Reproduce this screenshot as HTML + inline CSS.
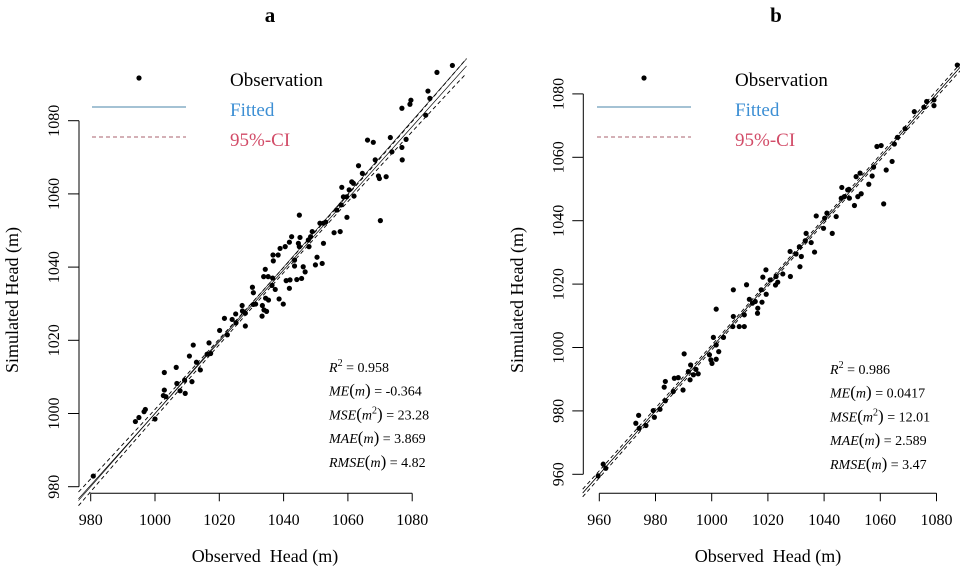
<!DOCTYPE html>
<html><head><meta charset="utf-8">
<style>
html,body{margin:0;padding:0;background:#fff;font-family:"Liberation Serif","Times New Roman",Times,"DejaVu Serif",serif;}
svg{display:block;font-family:"Liberation Serif","Times New Roman",Times,"DejaVu Serif",serif;}
svg text, svg tspan{font-family:"Liberation Serif","Times New Roman",Times,"DejaVu Serif",serif !important;}
</style></head>
<body>
<svg id="chart" width="960" height="572" viewBox="0 0 960 572" xmlns="http://www.w3.org/2000/svg"></svg>
<script>
// ---- Panel a data ----
const aObserved = [980.8,993.9,995.0,996.6,997.0,1000.0,1002.9,1002.9,1003.4,1002.6,1006.6,1006.8,1007.8,1009.2,1009.4,1011.5,1010.7,1011.9,1012.9,1014.1,1016.2,1016.8,1017.3,1020.1,1021.6,1022.5,1024.0,1025.2,1025.1,1027.1,1027.2,1028.1,1028.1,1030.3,1030.6,1031.3,1030.6,1033.3,1033.4,1033.9,1034.4,1034.7,1035.3,1034.3,1033.8,1035.2,1036.6,1036.4,1037.4,1036.8,1036.7,1038.3,1038.6,1039.9,1038.9,1040.5,1041.8,1042.5,1040.8,1042.0,1041.8,1043.4,1043.4,1044.1,1044.6,1045.1,1044.9,1044.9,1045.6,1046.1,1046.7,1047.7,1047.9,1048.4,1048.9,1049.9,1050.4,1052.0,1052.4,1051.3,1052.4,1053.1,1055.7,1057.6,1056.5,1057.9,1059.7,1058.6,1059.6,1060.4,1061.2,1061.7,1061.9,1058.1,1063.3,1064.5,1069.5,1069.8,1071.9,1068.5,1070.1,1066.1,1067.9,1073.2,1073.7,1076.8,1076.9,1078.1,1076.8,1079.3,1079.6,1084.2,1085.5,1084.9,1087.7,1092.5];
const aSimulated = [982.9,997.8,998.9,1000.5,1001.1,998.5,1011.2,1006.4,1004.6,1004.9,1012.6,1008.2,1006.2,1009.1,1005.5,1008.7,1015.7,1018.7,1014.0,1011.9,1016.2,1019.3,1016.4,1022.7,1026.0,1021.5,1025.7,1024.8,1027.2,1029.5,1028.0,1027.4,1023.9,1034.5,1033.0,1029.9,1029.8,1026.6,1029.5,1028.3,1031.5,1027.9,1031.0,1039.4,1037.4,1037.4,1037.0,1035.0,1033.9,1041.7,1043.3,1043.3,1031.3,1029.9,1045.1,1045.6,1046.8,1048.3,1036.3,1036.5,1034.2,1041.9,1040.3,1036.6,1046.5,1048.1,1045.6,1054.2,1036.9,1040.1,1038.7,1047.4,1045.6,1048.3,1049.7,1040.6,1042.7,1041.0,1046.5,1052.0,1052.0,1052.3,1049.4,1049.7,1055.6,1057.0,1053.6,1059.2,1059.2,1061.1,1063.3,1062.9,1059.4,1061.8,1067.7,1065.6,1064.9,1064.2,1064.7,1069.3,1052.7,1074.7,1074.1,1075.4,1071.5,1072.7,1069.3,1074.9,1083.4,1084.5,1085.6,1081.5,1086.1,1088.1,1093.2,1095.1];
const aFit = [20, 0.98];            // intercept, slope
const aCI = [2.0, 1035];            // half-width at ends, centre
const aStats = ["0.958","-0.364","23.28","3.869","4.82"];
const aTicksX = [980,1000,1020,1040,1060,1080];
const aTicksY = [980,1000,1020,1040,1060,1080];

// ---- Panel b data ----
const bObserved = [959.6,961.4,962.3,973.0,974.0,974.2,976.6,979.2,979.6,981.6,983.5,983.1,983.5,986.3,986.7,988.1,989.8,990.2,991.7,992.5,992.3,993.5,994.4,995.2,999.2,999.7,1000.1,1001.6,1001.6,1000.6,1001.6,1002.5,1004.2,1007.5,1007.7,1009.8,1011.6,1007.7,1011.6,1012.4,1013.4,1014.5,1015.5,1016.4,1016.3,1017.6,1017.9,1019.4,1018.2,1019.3,1020.8,1022.9,1022.7,1023.5,1025.3,1027.9,1028.0,1030.0,1031.2,1031.4,1031.9,1033.3,1033.6,1035.4,1036.6,1037.2,1039.8,1040.2,1041.0,1042.9,1044.3,1046.3,1046.1,1047.2,1048.4,1049.0,1048.8,1050.8,1051.4,1052.8,1052.0,1053.2,1055.9,1057.1,1057.6,1058.8,1060.3,1062.1,1064.2,1061.2,1065.0,1066.1,1068.8,1072.1,1075.5,1076.5,1079.1,1079.1,1087.4];
const bSimulated = [959.5,963.2,961.9,976.1,978.6,974.5,975.4,980.1,978.0,980.5,989.3,987.5,983.2,986.1,990.3,990.5,986.6,998.0,992.4,994.5,989.8,991.4,993.1,991.7,997.7,996.1,995.0,996.3,1012.1,1003.2,1000.8,998.7,1003.2,1006.6,1009.8,1006.6,1006.6,1018.2,1010.3,1019.8,1015.2,1014.0,1014.5,1012.4,1010.8,1018.2,1014.3,1016.8,1022.2,1024.5,1021.3,1022.4,1019.7,1020.6,1023.2,1030.3,1022.4,1029.5,1031.8,1025.5,1028.7,1033.7,1036.0,1033.1,1030.1,1041.5,1037.6,1040.8,1042.4,1036.0,1041.3,1050.5,1047.1,1047.6,1049.7,1047.1,1049.9,1044.8,1053.9,1055.0,1047.6,1048.5,1051.5,1054.1,1056.9,1063.4,1063.7,1056.0,1058.7,1045.3,1064.2,1066.3,1069.0,1074.4,1075.8,1077.6,1078.1,1076.3,1089.1];
const bFit = [0, 1.0];
const bCI = [1.2, 1025];
const bStats = ["0.986","0.0417","12.01","2.589","3.47"];
const bTicksX = [960,980,1000,1020,1040,1060,1080];
const bTicksY = [960,980,1000,1020,1040,1060,1080];

const NS = "http://www.w3.org/2000/svg";
const svg = document.getElementById('chart');
const FONT = "'Liberation Serif', 'Times New Roman', Times, 'DejaVu Serif', serif";
function mk(tag, attrs, parent, text){
  const e = document.createElementNS(NS, tag);
  for (const k in attrs) e.setAttribute(k, attrs[k]);
  if (tag === 'text') e.style.fontFamily = FONT;
  if (text !== undefined) e.textContent = text;
  (parent || svg).appendChild(e);
  return e;
}

function panel(cfg){
  const g = mk('g', {});
  
  
  const sx = v => cfg.x0 + (v - cfg.xd0) * cfg.kx;
  const sy = v => cfg.y0 - (v - cfg.yd0) * cfg.ky;

  const t = mk('text', {x: cfg.titleX, y: 22, 'font-size': 21, 'font-weight': 'bold', 'text-anchor': 'middle'}, g, cfg.title);
  
  

  const xa = mk('g', {}, g);
  
  
  const tx = cfg.ticksX;
  mk('line', {x1: sx(tx[0]), x2: sx(tx[tx.length-1]), y1: cfg.axisY, y2: cfg.axisY, stroke: '#000', 'stroke-width': 1}, xa);
  tx.forEach(v => {
    mk('line', {x1: sx(v), x2: sx(v), y1: cfg.axisY, y2: cfg.axisY + 8, stroke: '#000'}, xa);
    const l = mk('text', {x: sx(v), y: 525, 'font-size': 16, 'text-anchor': 'middle'}, xa, String(v));
    
    
  });
  const ya = mk('g', {}, g);
  
  
  const ty = cfg.ticksY;
  mk('line', {x1: cfg.axisX, x2: cfg.axisX, y1: sy(ty[0]), y2: sy(ty[ty.length-1]), stroke: '#000'}, ya);
  ty.forEach(v => {
    mk('line', {x1: cfg.axisX - 11, x2: cfg.axisX, y1: sy(v), y2: sy(v), stroke: '#000'}, ya);
    const lx = cfg.axisX - 20;
    const l = mk('text', {x: lx, y: sy(v), 'font-size': 16, 'text-anchor': 'middle', transform: `rotate(-90 ${lx} ${sy(v)})`}, ya, String(v));
    
    
  });
  const xt = mk('text', {x: cfg.xLabelX, y: 562, 'font-size': 18, 'text-anchor': 'middle'}, g, 'Observed\u00a0 Head (m)');
  
  
  const yx = cfg.yLabelX, yy = 300;
  const yt = mk('text', {x: yx, y: yy, 'font-size': 18, 'text-anchor': 'middle', transform: `rotate(-90 ${yx} ${yy})`}, g, 'Simulated Head (m)');
  
  

  const [a, b] = cfg.fit;
  const [ci, c] = cfg.ci;
  const L0 = cfg.lineRange[0], L1 = cfg.lineRange[1];
  const half = Math.max(Math.abs(L0 - c), Math.abs(L1 - c));
  const one = mk('line', {x1: sx(L0), y1: sy(L0), x2: sx(L1), y2: sy(L1), stroke: '#000', 'stroke-width': 0.6}, g);
  
  
  const fit = mk('line', {x1: sx(L0), y1: sy(a + b*L0), x2: sx(L1), y2: sy(a + b*L1), stroke: '#000', 'stroke-width': 0.7}, g);
  
  
  [1, -1].forEach(sgn => {
    let d = '';
    for (let i = 0; i <= 40; i++) {
      const v = L0 + (L1 - L0) * i / 40;
      const w = 0.7 + (ci - 0.7) * Math.pow((v - c) / half, 2);
      d += (i ? 'L' : 'M') + sx(v).toFixed(1) + ',' + sy(a + b*v + sgn*w).toFixed(1);
    }
    const p = mk('path', {d: d, fill: 'none', stroke: '#000', 'stroke-width': 0.9, 'stroke-dasharray': '4,3'}, g);
    
    
  });

  const pts = mk('g', {}, g);
  
  
  cfg.obs.forEach((v, i) => {
    const dot = mk('circle', {cx: sx(v), cy: sy(cfg.sim[i]), r: 2.6, fill: '#000'}, pts);
    
    
  });

  const lg = mk('g', {}, g);
  
  
  const lx = cfg.legX;
  mk('circle', {cx: lx + 47, cy: 78, r: 2.6, fill: '#000'}, lg);
  mk('line', {x1: lx, x2: lx + 94, y1: 107, y2: 107, stroke: '#4a86a8', 'stroke-width': 1}, lg);
  mk('line', {x1: lx, x2: lx + 94, y1: 137, y2: 137, stroke: '#a8606c', 'stroke-width': 1, 'stroke-dasharray': '4,3'}, lg);
  const e1 = mk('text', {x: lx + 138, y: 86, 'font-size': 19}, lg, 'Observation');
  
  
  const e2 = mk('text', {x: lx + 138, y: 116, 'font-size': 19, fill: '#3d8fd4'}, lg, 'Fitted');
  
  
  const e3 = mk('text', {x: lx + 138, y: 146, 'font-size': 19, fill: '#d24c68'}, lg, '95%-CI');
  
  

  const st = mk('g', {'font-size': 14}, g);
  
  
  const s = cfg.stats, X = cfg.statX, Y = cfg.statY, dy = 23.7;
  const labels = [
    ['R', '2', '', s[0]],
    ['ME', '', 'm', s[1]],
    ['MSE', '2', 'm', s[2]],
    ['MAE', '', 'm', s[3]],
    ['RMSE', '', 'm', s[4]]
  ];
  labels.forEach((r, i) => {
    const tx = mk('text', {x: X, y: Y + i*dy, 'font-size': 14}, st);
    
    
    mk('tspan', {'font-style': 'italic'}, tx, r[0]);
    if (i === 0) {
      mk('tspan', {dy: -6, 'font-size': 10}, tx, '2');
      mk('tspan', {dy: 6}, tx, ' = ' + r[3]);
    } else {
      mk('tspan', {'font-size': 17}, tx, '(');
      mk('tspan', {'font-style': 'italic'}, tx, r[2]);
      if (r[1]) { mk('tspan', {dy: -6, 'font-size': 10}, tx, '2'); mk('tspan', {dy: 6, 'font-size': 17}, tx, ')'); }
      else mk('tspan', {'font-size': 17}, tx, ')');
      mk('tspan', {}, tx, ' = ' + r[3]);
    }
  });
}

panel({name: 'panel-a', title: 'a', titleX: 270, x0: 90.7, xd0: 980, kx: 3.215, y0: 486.7, yd0: 980, ky: 3.66,
  axisY: 493.3, axisX: 79, ticksX: aTicksX, ticksY: aTicksY, xLabelX: 265, yLabelX: 18,
  fit: aFit, ci: aCI, lineRange: [976.2, 1096.9], obs: aObserved, sim: aSimulated,
  legX: 92, stats: aStats, statX: 329, statY: 372});
panel({name: 'panel-b', title: 'b', titleX: 776, x0: 599.3, xd0: 960, kx: 2.81, y0: 474.3, yd0: 960, ky: 3.17,
  axisY: 493.3, axisX: 583.3, ticksX: bTicksX, ticksY: bTicksY, xLabelX: 768, yLabelX: 523,
  fit: bFit, ci: bCI, lineRange: [954.1, 1088.4], obs: bObserved, sim: bSimulated,
  legX: 597, stats: bStats, statX: 830, statY: 374});
</script>
</body></html>
